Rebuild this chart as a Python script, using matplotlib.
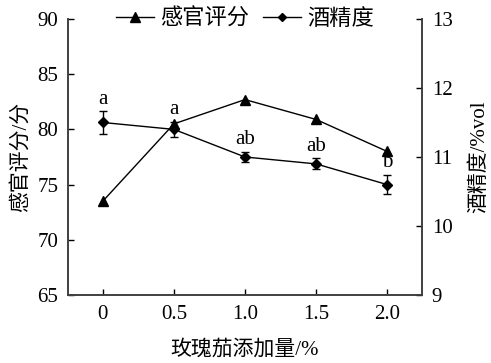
import matplotlib.pyplot as plt
from matplotlib.lines import Line2D

plt.rcParams['font.family'] = ['Liberation Serif', 'Noto Sans CJK SC']

# data
doses = [0, 0.5, 1.0, 1.5, 2.0]
dose_labels = ['0', '0.5', '1.0', '1.5', '2.0']
sensory = [73.5, 80.5, 82.7, 80.9, 78.0]
alcohol = [11.5, 11.4, 11.0, 10.9, 10.6]
alcohol_err = [0.16, 0.11, 0.07, 0.08, 0.14]
letters = ['a', 'a', 'ab', 'ab', 'b']

fig = plt.figure(figsize=(4.91, 3.63), dpi=100)
ax = fig.add_axes([0.1385, 0.1873, 0.721, 0.7604])
ax2 = ax.twinx()

ax.plot(doses, sensory, '-^', color='black', lw=1.0, ms=7)
ax2.errorbar(doses, alcohol, yerr=alcohol_err, fmt='-D', color='black',
             lw=1.0, ms=5, capsize=3, elinewidth=1.0, capthick=1.0)

for x, y, e, s in zip(doses, alcohol, alcohol_err, letters):
    ax2.annotate(s, (x, y + e), xytext=(0, 2), textcoords='offset points',
                 ha='center', va='bottom', fontsize=15)

ax.set_xlim(-0.245, 2.245)
ax.set_ylim(65, 90)
ax2.set_ylim(9, 13)
ax.set_xticks(doses)
ax.set_xticklabels(dose_labels)
ax.set_yticks(range(65, 91, 5))
ax2.set_yticks(range(9, 14))

for a in (ax, ax2):
    a.spines['top'].set_visible(False)
    for sp in a.spines.values():
        sp.set_linewidth(1.2)
        sp.set_color('#404040')
    a.tick_params(direction='in', length=4, width=1.0, labelsize=15, pad=7)

ax.set_xlabel('玫瑰茄添加量/%', fontsize=15, labelpad=12)
ax.set_ylabel('感官评分/分', fontsize=15, labelpad=5)
ax2.set_ylabel('酒精度/%vol', fontsize=15, labelpad=12)

handles = [Line2D([], [], color='black', lw=1.0, marker='^', ms=7),
           Line2D([], [], color='black', lw=1.0, marker='D', ms=4)]
ax.legend(handles, ['感官评分', '酒精度'], ncol=2, frameon=False,
          loc='upper center', bbox_to_anchor=(0.5, 1.085), fontsize=16,
          handlelength=1.7, columnspacing=0.6, handletextpad=0.3,
          borderpad=0.1)

fig.savefig('out.png', dpi=100)
